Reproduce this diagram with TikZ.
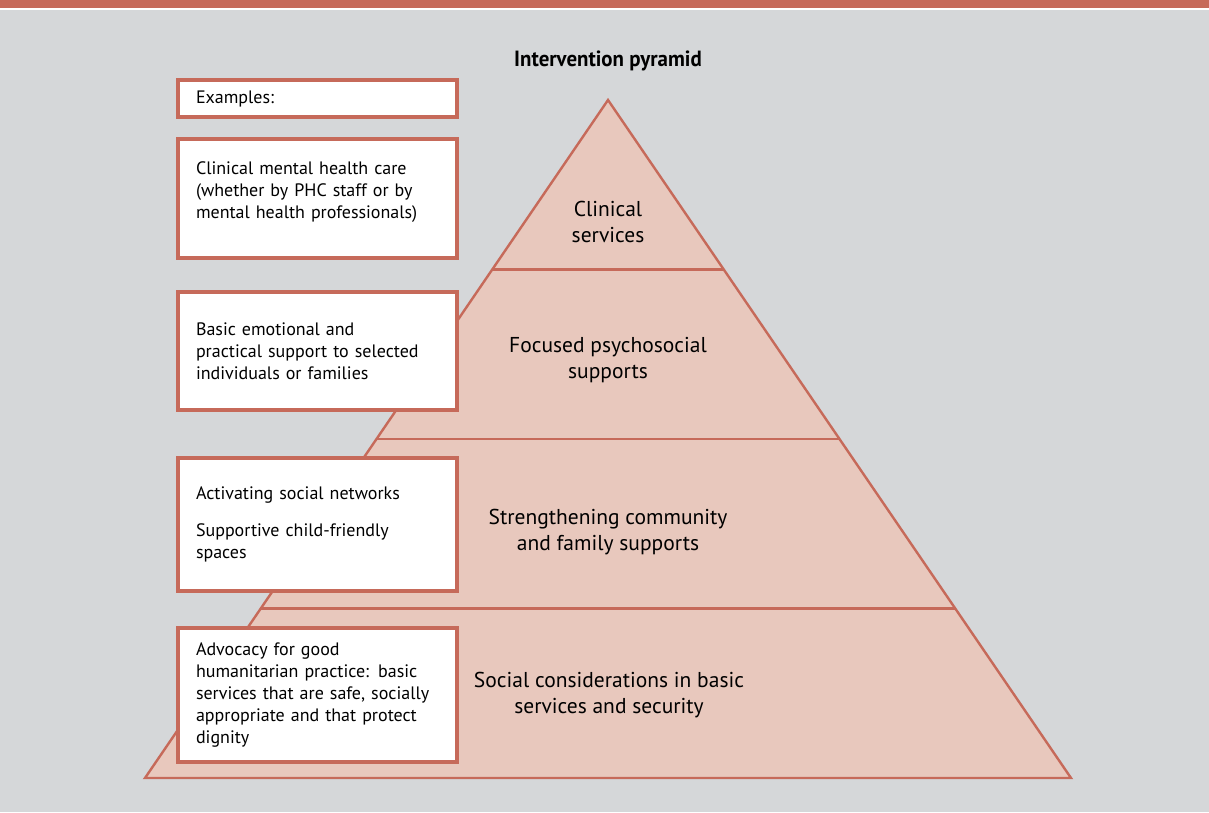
\documentclass[tikz,border=0pt]{standalone}
\usepackage{fontspec}
\setmainfont{PT Sans}
\usetikzlibrary{calc}
\definecolor{ihred}{HTML}{C66A5A}
\definecolor{ihfill}{HTML}{E8C8BD}
\definecolor{ihgray}{HTML}{D5D7D9}
\tikzset{
  examplebox/.style={draw=ihred,line width=3.2pt,fill=white,inner xsep=18pt,
    text width=243pt,align=left,font=\fontsize{18}{22}\selectfont},
  tierlabel/.style={align=center,font=\fontsize{21.5}{25.5}\selectfont},
  tierline/.style={draw=ihred,line width=2.4pt}
}

\begin{document}
\begin{tikzpicture}[x=1pt,y=-1pt]
    \useasboundingbox (0,0) rectangle (1209,812);
    % background and top band
    \fill[ihgray] (0,0) rectangle (1209,812);
    \fill[white] (0,7) rectangle (1209,10);
    \fill[ihred] (0,0) rectangle (1209,7.5);
    \node[font=\bfseries\addfontfeature{FakeStretch=0.95}\fontsize{22}{26}\selectfont]
      (title) at (608,61) {Intervention pyramid};
    % pyramid
    \coordinate (apex) at (608,100);
    \coordinate (bl) at (145,778);
    \coordinate (br) at (1071,778);
    \filldraw[tierline,fill=ihfill,line join=miter] (apex) -- (br) -- (bl) -- cycle;
    \foreach \t in {0.25,0.5,0.75}
      \draw[tierline] ($(apex)!\t!(bl)$) -- ($(apex)!\t!(br)$);
    \node[tierlabel] (clin) at (608,222) {Clinical\\services};
    \node[tierlabel] (focus) at (608,360) {Focused psychosocial\\supports};
    \node[tierlabel] (comm) at (608,532) {Strengthening community\\and family supports};
    \node[tierlabel] (basic) at (609,695) {Social considerations in basic\\services and security};
    % example boxes
    \node[examplebox,minimum height=37pt] (ex) at (317.5,98.5) {Examples:};
    \node[examplebox,minimum height=119pt,text depth=61pt] (exclin) at (317.5,198.5)
      {Clinical mental health care\\(whether by PHC staff or by\\mental health professionals)};
    \node[examplebox,minimum height=118pt] (exfocus) at (317.5,351)
      {Basic emotional and\\practical support to selected\\individuals or families};
    \node[examplebox,minimum height=133pt] (excomm) at (317.5,524.5)
      {Activating social networks\\[15pt]Supportive child-friendly\\spaces};
    \node[examplebox,minimum height=134pt] (exbasic) at (317.5,695)
      {Advocacy for good\\humanitarian practice: basic\\services that are safe, socially\\appropriate and that protect\\dignity};
\end{tikzpicture}
\end{document}
